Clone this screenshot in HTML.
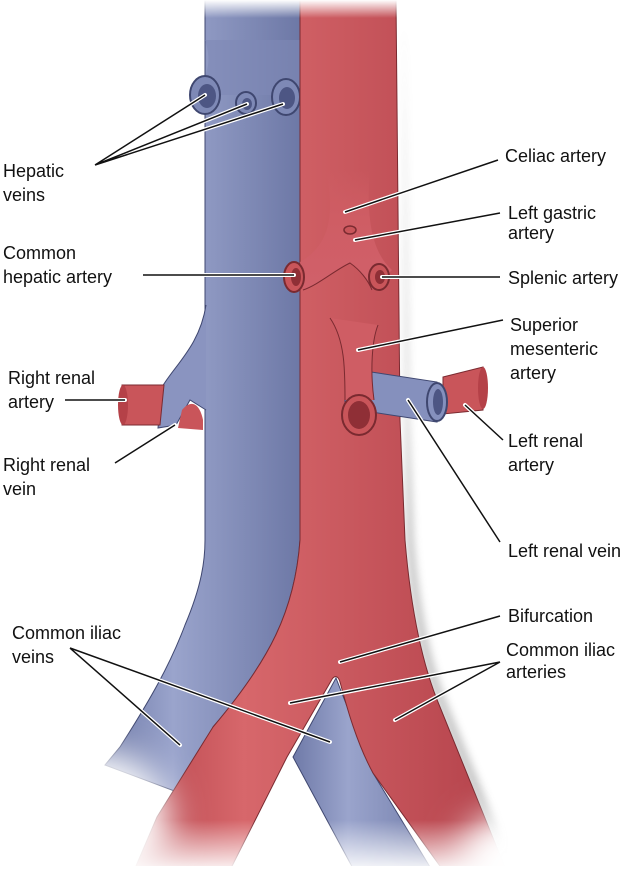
<!DOCTYPE html>
<html><head><meta charset="utf-8"><style>
html,body{margin:0;padding:0;background:#fff;}
svg{display:block;}
text{font-family:"Liberation Sans",sans-serif;font-size:18px;fill:#111;}
</style></head><body>
<svg width="642" height="873" viewBox="0 0 642 873" xmlns="http://www.w3.org/2000/svg">
<defs>
<linearGradient id="vb" x1="0" x2="1" y1="0" y2="0">
<stop offset="0" stop-color="#6f7aa8"/><stop offset="0.35" stop-color="#9aa4cc"/><stop offset="1" stop-color="#6d78a6"/></linearGradient>
<linearGradient id="ar" x1="0" x2="1" y1="0" y2="0">
<stop offset="0" stop-color="#b5424a"/><stop offset="0.3" stop-color="#d7676b"/><stop offset="1" stop-color="#b3414a"/></linearGradient>
<linearGradient id="cel" x1="0" x2="0" y1="0" y2="1">
<stop offset="0" stop-color="#cf5d64" stop-opacity="0"/><stop offset="0.4" stop-color="#cf5d64"/><stop offset="1" stop-color="#d0606a"/></linearGradient>
<linearGradient id="tg" x1="0" x2="0" y1="0" y2="1">
<stop offset="0" stop-color="#000"/><stop offset="1" stop-color="#fff"/></linearGradient>
<linearGradient id="bg" x1="0" x2="0" y1="0" y2="1">
<stop offset="0" stop-color="#fff"/><stop offset="1" stop-color="#000"/></linearGradient>
<filter id="bl" x="-100%" y="-100%" width="300%" height="300%"><feGaussianBlur stdDeviation="18"/></filter>
<mask id="m" maskUnits="userSpaceOnUse" x="0" y="0" width="642" height="873">
<rect x="0" y="0" width="642" height="873" fill="#fff"/>
<rect x="0" y="0" width="642" height="18" fill="url(#tg)"/>
<rect x="0" y="820" width="642" height="53" fill="url(#bg)"/>
<rect x="0" y="866" width="642" height="7" fill="#000"/>
<ellipse cx="90" cy="820" rx="80" ry="70" fill="#000" filter="url(#bl)"/>
<ellipse cx="520" cy="860" rx="60" ry="50" fill="#000" filter="url(#bl)"/>
</mask>
<filter id="sh" x="-50%" y="-20%" width="200%" height="140%"><feGaussianBlur stdDeviation="4"/></filter>
</defs>
<g mask="url(#m)">
<path d="M398,20 L403,420 L408,540 C413,600 423,660 443,707 L513,880 L500,880 L432,707 C412,660 404,600 400,540 Z" fill="#888" filter="url(#sh)" opacity="0.45" transform="translate(6,0)"/>
<path d="M336,678 L373,773 L450,900 L370,900 L293,757 Z" fill="url(#vb)" stroke="#3f4770" stroke-width="1"/>
<path d="M205,0 L300,0 L300,540 C295,610 270,660 213,727 L185,795 L105,765 L120,747 C150,700 170,665 185,625 C202,585 205,560 205,540 Z" fill="url(#vb)" stroke="#3f4770" stroke-width="1"/>
<path d="M206,305 C200,345 175,365 162,387 L158,428 L176,425 L190,400 L206,410 Z" fill="#8a94c0"/>
<path d="M206,305 C200,345 175,365 162,387 L158,428 L176,425 L190,400 L206,410" fill="none" stroke="#3f4770" stroke-width="1"/>
<path d="M122,385 L164,385 L160,425 L122,425 Z" fill="#c9555a" stroke="#7a2a30" stroke-width="1"/>
<ellipse cx="123" cy="405" rx="5" ry="20" fill="#b54148"/>
<path d="M182,410 C192,398 200,405 203,420 L203,430 L178,428 Z" fill="#c9555a"/>
<path d="M205,40 C215,70 200,80 200,95 L300,95 L300,40 Z" fill="#7e89b6" opacity="0.6"/>
<ellipse cx="205" cy="95" rx="15" ry="19" fill="#7e89b6" stroke="#3f4770" stroke-width="2"/>
<ellipse cx="207" cy="96" rx="9" ry="12" fill="#4d5684"/>
<ellipse cx="246" cy="103" rx="10" ry="11" fill="#7e89b6" stroke="#3f4770" stroke-width="2"/>
<ellipse cx="247" cy="104" rx="5" ry="6" fill="#4d5684"/>
<ellipse cx="286" cy="97" rx="14" ry="18" fill="#7e89b6" stroke="#3f4770" stroke-width="2"/>
<ellipse cx="287" cy="98" rx="8" ry="11" fill="#4d5684"/>
<path d="M300,0 L396,0 L400,420 L405,540 C410,600 420,660 440,707 L510,880 L450,880 L373,773 C355,740 345,700 340,682 C338,675 334,675 331,681 L287,757 L225,880 L130,880 L157,817 L213,727 C270,660 295,610 300,540 Z" fill="url(#ar)" stroke="#7a2a30" stroke-width="1"/>
</g>
<path d="M326,170 C335,215 330,245 300,262 L303,290 C318,285 335,270 350,263 C360,270 368,280 372,290 L392,270 C375,255 365,225 370,170 Z" fill="url(#cel)"/>
<path d="M303,290 C318,285 335,270 350,263 C360,270 368,280 372,290" fill="none" stroke="#7a2a30" stroke-width="1"/>
<ellipse cx="294" cy="277" rx="10" ry="15" fill="#c9555a" stroke="#7a2a30" stroke-width="2"/>
<ellipse cx="296" cy="277" rx="5" ry="9" fill="#8f2f36"/>
<ellipse cx="379" cy="277" rx="10" ry="13" fill="#c9555a" stroke="#7a2a30" stroke-width="2"/>
<ellipse cx="380" cy="277" rx="5" ry="7" fill="#8f2f36"/>
<ellipse cx="350" cy="230" rx="6" ry="4" fill="#c9555a" stroke="#7a2a30" stroke-width="1.5"/>
<path d="M345,368 L437,382 L437,422 L345,408 Z" fill="#8590bd" stroke="#3f4770" stroke-width="1"/>
<path d="M443,377 L483,367 L483,410 L443,414 Z" fill="#c9555a" stroke="#7a2a30" stroke-width="1"/>
<ellipse cx="483" cy="388" rx="5" ry="21" fill="#b54148"/>
<ellipse cx="437" cy="402" rx="10" ry="19" fill="#8590bd" stroke="#3f4770" stroke-width="2"/>
<ellipse cx="438" cy="402" rx="5" ry="13" fill="#4d5684"/>
<path d="M330,318 C345,340 345,370 345,400 L374,400 C370,370 372,340 378,325 Z" fill="#cf5d64"/>
<path d="M330,318 C345,340 345,370 345,400 M374,400 C370,370 372,340 378,325" fill="none" stroke="#7a2a30" stroke-width="1"/>
<ellipse cx="359" cy="415" rx="17" ry="20" fill="#c9555a" stroke="#7a2a30" stroke-width="2"/>
<ellipse cx="359" cy="415" rx="11" ry="14" fill="#8f2f36"/>
<g stroke="#fff" stroke-width="4" fill="none" stroke-linecap="round">
<path d="M95,165 L205,95 M95,165 L247,104 M95,165 L283,104 M143,275 L294,275 M65,400 L125,400 M115,463 L175,425 M70,648 L180,745 M70,648 L330,742 M498,160 L345,212 M500,213 L355,240 M500,277 L382,277 M503,320 L358,350 M503,440 L465,405 M500,542 L408,400 M500,616 L340,662 M500,662 L290,703 M500,662 L395,720"/>
</g>
<g stroke="#111" stroke-width="1.5" fill="none">
<path d="M95,165 L205,95 M95,165 L247,104 M95,165 L283,104 M143,275 L294,275 M65,400 L125,400 M115,463 L175,425 M70,648 L180,745 M70,648 L330,742 M498,160 L345,212 M500,213 L355,240 M500,277 L382,277 M503,320 L358,350 M503,440 L465,405 M500,542 L408,400 M500,616 L340,662 M500,662 L290,703 M500,662 L395,720"/>
</g>
<text x="3" y="177">Hepatic</text><text x="3" y="201">veins</text>
<text x="3" y="259">Common</text><text x="3" y="283">hepatic artery</text>
<text x="8" y="384">Right renal</text><text x="8" y="408">artery</text>
<text x="3" y="471">Right renal</text><text x="3" y="495">vein</text>
<text x="12" y="639">Common iliac</text><text x="12" y="663">veins</text>
<text x="505" y="162">Celiac artery</text>
<text x="508" y="219">Left gastric</text><text x="508" y="239">artery</text>
<text x="508" y="284">Splenic artery</text>
<text x="510" y="331">Superior</text><text x="510" y="355">mesenteric</text><text x="510" y="379">artery</text>
<text x="508" y="447">Left renal</text><text x="508" y="471">artery</text>
<text x="508" y="557">Left renal vein</text>
<text x="508" y="622">Bifurcation</text>
<text x="506" y="656">Common iliac</text><text x="506" y="678">arteries</text>
</svg>
</body></html>
